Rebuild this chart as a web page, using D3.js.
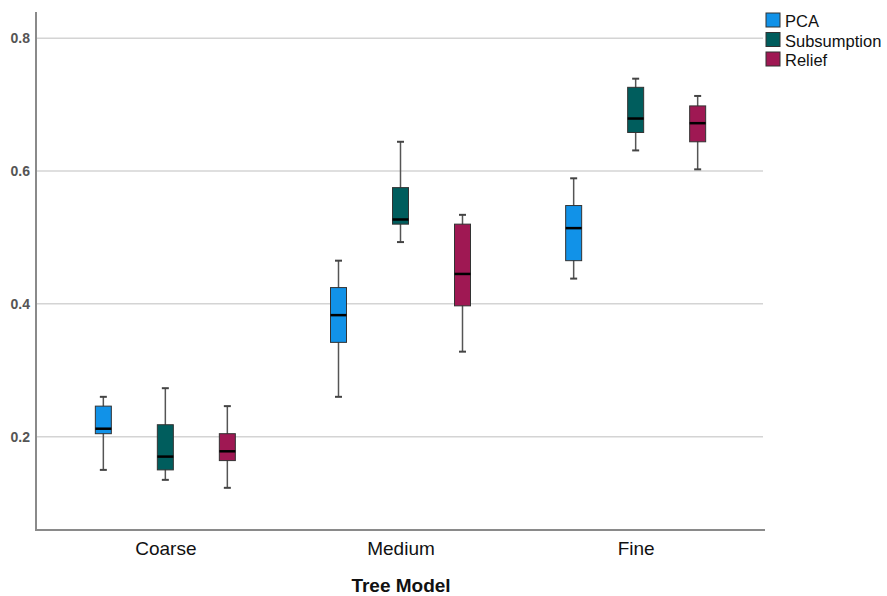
<!DOCTYPE html>
<html lang="en">
<head>
    <meta charset="UTF-8" />
    <title>Tree Model boxplot</title>
    <script src="https://d3js.org/d3.v7.min.js"></script>
    <style>
        body { margin: 0; background: #fff; }
        text { font-family: "Liberation Sans", Arial, sans-serif; }
    </style>
</head>
<body>
    <div id="viz"></div>
    <script>
        // --- Data (min, q1, median, q3, max) ---
        const categories = ["Coarse", "Medium", "Fine"];
        const seriesNames = ["PCA", "Subsumption", "Relief"];
        const pcaStats = [
            [0.150, 0.2045, 0.212, 0.246, 0.260],
            [0.260, 0.342, 0.383, 0.4245, 0.465],
            [0.438, 0.465, 0.514, 0.548, 0.589]
        ];
        const subsumptionStats = [
            [0.135, 0.150, 0.170, 0.218, 0.273],
            [0.493, 0.520, 0.527, 0.575, 0.644],
            [0.631, 0.658, 0.679, 0.726, 0.739]
        ];
        const reliefStats = [
            [0.123, 0.164, 0.178, 0.2045, 0.246],
            [0.328, 0.397, 0.445, 0.520, 0.534],
            [0.6025, 0.644, 0.672, 0.698, 0.713]
        ];
        const yTicks = [0.2, 0.4, 0.6, 0.8];
        const colors = ["#1192e8", "#005d5d", "#9f1853"];

        const allStats = [pcaStats, subsumptionStats, reliefStats];

        // --- Setup ---
        const width = 887, height = 596;
        const plotLeft = 36, plotRight = 765, plotTop = 12, plotBottom = 530;

        const svg = d3.select("#viz").append("svg")
            .attr("width", width)
            .attr("height", height);

        const x = d3.scalePoint()
            .domain(categories)
            .range([plotLeft, plotRight])
            .padding(0.55);

        const xSeries = d3.scalePoint()
            .domain(seriesNames)
            .range([-62, 62]);

        const y = d3.scaleLinear()
            .domain([0.0595, 0.8394])
            .range([plotBottom, plotTop]);

        // Gridlines
        svg.append("g")
            .selectAll("line")
            .data(yTicks)
            .join("line")
            .attr("x1", plotLeft)
            .attr("x2", plotRight - 2)
            .attr("y1", d => y(d))
            .attr("y2", d => y(d))
            .attr("stroke", "#d4d4d4")
            .attr("stroke-width", 1.5);

        // Y axis
        const yAxis = svg.append("g")
            .attr("transform", `translate(${plotLeft},0)`)
            .call(d3.axisLeft(y).tickValues(yTicks).tickSize(0).tickPadding(6).tickFormat(d3.format(".1f")));
        yAxis.select(".domain").remove();
        yAxis.selectAll("text")
            .attr("font-size", 14)
            .attr("font-weight", "bold")
            .attr("fill", "#555")
            .attr("font-family", "Liberation Sans, Arial, sans-serif");

        // X axis labels
        const xAxis = svg.append("g")
            .attr("transform", `translate(0,${plotBottom})`)
            .call(d3.axisBottom(x).tickSize(0).tickPadding(12));
        xAxis.select(".domain").remove();
        xAxis.selectAll("text")
            .attr("font-size", 19)
            .attr("fill", "#111")
            .attr("font-family", "Liberation Sans, Arial, sans-serif");

        // Axis frame
        svg.append("path")
            .attr("d", `M${plotLeft},${plotTop}V${plotBottom}H${plotRight}`)
            .attr("fill", "none")
            .attr("stroke", "#8a8a8a")
            .attr("stroke-width", 2);

        // Axis title
        svg.append("text")
            .attr("x", 401)
            .attr("y", 592)
            .attr("text-anchor", "middle")
            .attr("font-size", 19)
            .attr("font-weight", "bold")
            .attr("fill", "#111")
            .text("Tree Model");

        // Boxes
        const boxW = 16, capW = 7;
        seriesNames.forEach((name, si) => {
            const g = svg.append("g");
            const data = allStats[si].map((s, ci) => ({ cat: categories[ci], s: s }));
            const cx = d => x(d.cat) + xSeries(name);

            // whiskers
            g.selectAll(".whisker")
                .data(data)
                .join("line")
                .attr("class", "whisker")
                .attr("x1", cx).attr("x2", cx)
                .attr("y1", d => y(d.s[0]))
                .attr("y2", d => y(d.s[4]))
                .attr("stroke", "#555")
                .attr("stroke-width", 1.5);

            // caps
            [0, 4].forEach(k => {
                g.selectAll(".cap" + k)
                    .data(data)
                    .join("line")
                    .attr("class", "cap" + k)
                    .attr("x1", d => cx(d) - capW / 2)
                    .attr("x2", d => cx(d) + capW / 2)
                    .attr("y1", d => y(d.s[k]))
                    .attr("y2", d => y(d.s[k]))
                    .attr("stroke", "#444")
                    .attr("stroke-width", 2);
            });

            // box
            g.selectAll(".box")
                .data(data)
                .join("rect")
                .attr("class", "box")
                .attr("x", d => cx(d) - boxW / 2)
                .attr("width", boxW)
                .attr("y", d => y(d.s[3]))
                .attr("height", d => y(d.s[1]) - y(d.s[3]))
                .attr("fill", colors[si])
                .attr("stroke", "#333")
                .attr("stroke-width", 1);

            // median
            g.selectAll(".median")
                .data(data)
                .join("line")
                .attr("class", "median")
                .attr("x1", d => cx(d) - boxW / 2)
                .attr("x2", d => cx(d) + boxW / 2)
                .attr("y1", d => y(d.s[2]))
                .attr("y2", d => y(d.s[2]))
                .attr("stroke", "#000")
                .attr("stroke-width", 2.5);
        });

        // Legend
        const legend = svg.append("g").attr("transform", "translate(766,13)");
        seriesNames.forEach((name, i) => {
            const row = legend.append("g").attr("transform", `translate(0,${i * 19.5})`);
            row.append("rect")
                .attr("width", 14)
                .attr("height", 14)
                .attr("fill", colors[i])
                .attr("stroke", "#333")
                .attr("stroke-width", 1);
            row.append("text")
                .attr("x", 19)
                .attr("y", 14)
                .attr("font-size", 16.5)
                .attr("fill", "#111")
                .text(name);
        });
    </script>
</body>
</html>
